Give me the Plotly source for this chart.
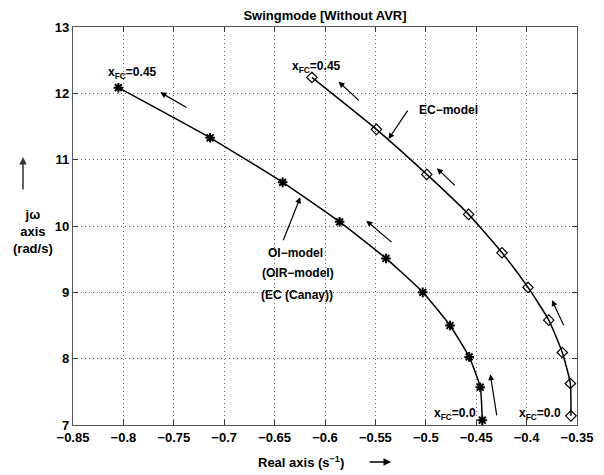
import plotly.graph_objects as go

# Data: x_FC from 0.0 (bottom) to 0.45 (top), step 0.05
xfc = [0.0, 0.05, 0.10, 0.15, 0.20, 0.25, 0.30, 0.35, 0.40, 0.45]
oi_real = [-0.444, -0.446, -0.457, -0.476, -0.503, -0.5395, -0.5855, -0.642, -0.714, -0.805]
oi_imag = [7.072, 7.570, 8.027, 8.500, 9.000, 9.511, 10.063, 10.658, 11.330, 12.085]
ec_real = [-0.356, -0.3566, -0.3646, -0.378, -0.3986, -0.4244, -0.4575, -0.499, -0.549, -0.613]
ec_imag = [7.138, 7.626, 8.093, 8.581, 9.074, 9.596, 10.175, 10.778, 11.457, 12.240]

FONT = "Liberation Sans"

fig = go.Figure()
fig.add_trace(go.Scatter(
    x=oi_real, y=oi_imag, mode="lines+markers", name="OI-model",
    line=dict(color="black", width=1.5, shape="spline", smoothing=0.5),
    marker=dict(symbol="asterisk-open", size=8, color="black",
                line=dict(color="black", width=2)),
    customdata=xfc, showlegend=False))
fig.add_trace(go.Scatter(
    x=ec_real, y=ec_imag, mode="lines+markers", name="EC-model",
    line=dict(color="black", width=1.5, shape="spline", smoothing=0.5),
    marker=dict(symbol="diamond-open", size=8, color="black",
                line=dict(color="black", width=1.2)),
    customdata=xfc, showlegend=False))

ann = []

def arrow(x_head, y_head, x_tail, y_tail):
    ann.append(dict(x=x_head, y=y_head, ax=x_tail, ay=y_tail,
                    xref="x", yref="y", axref="x", ayref="y",
                    text="", showarrow=True, arrowhead=2, arrowsize=1,
                    arrowwidth=1.2, arrowcolor="black"))

def label(x, y, text, size=12, xanchor="center"):
    ann.append(dict(x=x, y=y, xref="x", yref="y", text=text, showarrow=False,
                    xanchor=xanchor, yanchor="middle",
                    font=dict(family=FONT, size=size, color="black", weight="bold")))

# direction arrows
arrow(-0.7634, 12.015, -0.7359, 11.774)
arrow(-0.5865, 12.175, -0.565, 11.873)
arrow(-0.489, 10.869, -0.4697, 10.591)
arrow(-0.559, 10.08, -0.5325, 9.738)
arrow(-0.436, 7.766, -0.4294, 7.122)
arrow(-0.3748, 8.882, -0.3626, 8.48)
# pointer arrows
arrow(-0.537, 11.311, -0.517, 11.763)
arrow(-0.6245, 10.433, -0.642, 9.762)

label(-0.5087, 11.75, "EC\u2212model", xanchor="left")
label(-0.629, 9.587, "OI\u2212model")
label(-0.627, 9.294, "(OIR\u2212model)")
label(-0.628, 8.958, "(EC (Canay))")
label(-0.791, 12.30, "x<sub>FC</sub>=0.45")
label(-0.608, 12.40, "x<sub>FC</sub>=0.45")
label(-0.4707, 7.17, "x<sub>FC</sub>=0.0")
label(-0.3867, 7.17, "x<sub>FC</sub>=0.0")

# y-axis label with arrow
ann.append(dict(x=(23 - 73) / 504, y=(425 - 157) / 398, xref="paper", yref="paper",
                ax=0, ay=34, text="", showarrow=True, arrowhead=2, arrowsize=1,
                arrowwidth=1.5, arrowcolor="#333"))
ann.append(dict(x=(33 - 73) / 504, y=(425 - 232) / 398, xref="paper", yref="paper",
                text="j\u03c9<br>axis<br>(rad/s)", showarrow=False,
                xanchor="center", yanchor="middle", align="center",
                font=dict(family=FONT, size=13, color="black", weight="bold")))
# x-axis label with arrow
ann.append(dict(x=(301 - 73) / 504, y=(425 - 462) / 398, xref="paper", yref="paper",
                text="Real axis (s<sup>\u22121</sup>)", showarrow=False,
                xanchor="center", yanchor="middle",
                font=dict(family=FONT, size=13, color="black", weight="bold")))
ann.append(dict(x=(391 - 73) / 504, y=(425 - 462) / 398, xref="paper", yref="paper",
                ax=-23, ay=0, text="", showarrow=True, arrowhead=2, arrowsize=1,
                arrowwidth=1.5, arrowcolor="black"))

axis_common = dict(showline=True, linecolor="#555", linewidth=1.2, mirror="ticks",
                   ticks="inside", ticklen=5, tickcolor="#333", tickwidth=1,
                   showgrid=True, gridcolor="#666", gridwidth=1, griddash="1px,3px",
                   zeroline=False,
                   tickfont=dict(family=FONT, size=13, color="black", weight="bold"))

fig.update_layout(
    width=604, height=475,
    margin=dict(l=73, r=27, t=27, b=50),
    plot_bgcolor="white", paper_bgcolor="white",
    title=dict(text="Swingmode [Without AVR]", x=325 / 604, xanchor="center",
               y=1 - 15 / 475, yanchor="middle",
               font=dict(family=FONT, size=13, color="black", weight="bold")),
    xaxis=dict(range=[-0.85, -0.35], dtick=0.05, tick0=-0.85, **axis_common),
    yaxis=dict(range=[7, 13], dtick=1, **axis_common),
    annotations=ann,
)

fig.write_html("out.html")
